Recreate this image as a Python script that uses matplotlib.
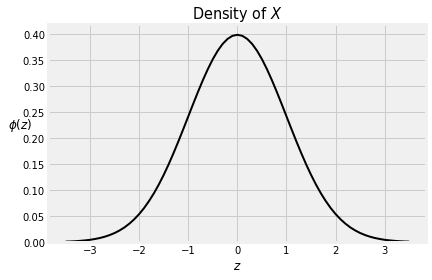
import matplotlib
matplotlib.use("Agg")
import matplotlib.pyplot as plt

# z grid and density values
z = [-3.5, -3.4, -3.3, -3.2, -3.1, -3.0, -2.9, -2.8, -2.7, -2.6, -2.5, -2.4,
     -2.3, -2.2, -2.1, -2.0, -1.9, -1.8, -1.7, -1.6, -1.5, -1.4, -1.3, -1.2,
     -1.1, -1.0, -0.9, -0.8, -0.7, -0.6, -0.5, -0.4, -0.3, -0.2, -0.1, 0.0,
     0.1, 0.2, 0.3, 0.4, 0.5, 0.6, 0.7, 0.8, 0.9, 1.0, 1.1, 1.2, 1.3, 1.4,
     1.5, 1.6, 1.7, 1.8, 1.9, 2.0, 2.1, 2.2, 2.3, 2.4, 2.5, 2.6, 2.7, 2.8,
     2.9, 3.0, 3.1, 3.2, 3.3, 3.4, 3.5]
half = [0.0009, 0.0012, 0.0017, 0.0024, 0.0033, 0.0044, 0.0060, 0.0079,
        0.0104, 0.0136, 0.0175, 0.0224, 0.0283, 0.0355, 0.0440, 0.0540,
        0.0656, 0.0790, 0.0940, 0.1109, 0.1295, 0.1497, 0.1714, 0.1942,
        0.2179, 0.2420, 0.2661, 0.2897, 0.3123, 0.3332, 0.3521, 0.3683,
        0.3814, 0.3910, 0.3970, 0.3989]
phi = half + half[-2::-1]

plt.style.use("fivethirtyeight")
plt.rcParams["figure.facecolor"] = "white"
plt.rcParams["savefig.facecolor"] = "white"

fig, ax = plt.subplots(figsize=(6, 3.9), dpi=72)
ax.plot(z, phi, color="black", linewidth=2)
ax.set_ylim(bottom=0)
ax.set_title("Density of $X$", fontsize=14.5)
ax.set_xlabel("$z$", fontsize=12)
ax.set_ylabel(r"$\phi(z)$", fontsize=12, rotation=0, labelpad=2)
ax.tick_params(labelsize=10)
fig.subplots_adjust(left=0.112, right=0.987, top=0.91, bottom=0.135)
fig.savefig("out.png", dpi=72)
